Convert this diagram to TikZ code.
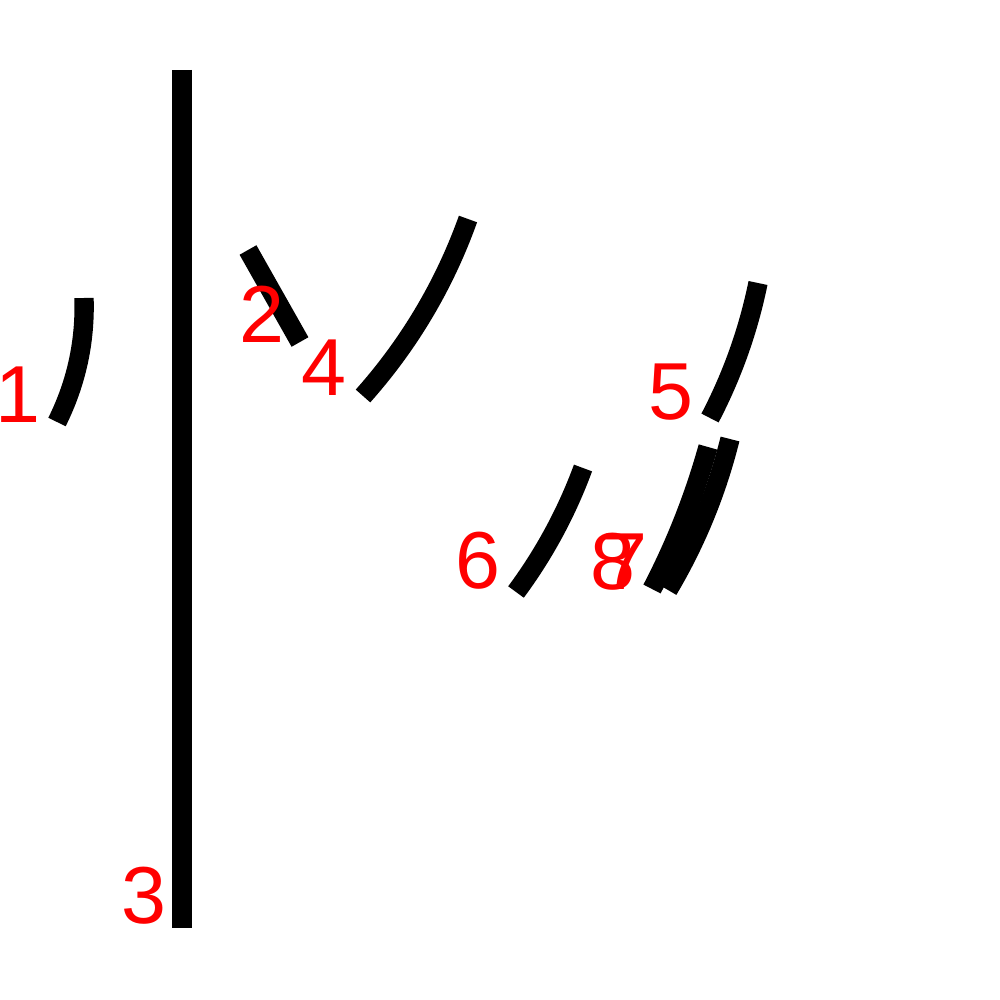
\documentclass[tikz,border=0pt]{standalone}
\usepackage{fontspec}
\setmainfont{Liberation Sans}
\begin{document}
\begin{tikzpicture}[scale=0.1, every node/.style={inner sep=0pt}]
        \tikzstyle{stroke}=[black,line width=5.5pt]
        \tikzstyle{num}=[red,font=\fontsize{23}{23}\selectfont]
        \useasboundingbox (0,0) rectangle (100,-100);
        \draw [stroke] (8.4,-29.8) .. controls (8.54,-34.16) and (7.64,-38.3) .. (5.7,-42.2);
        \draw [stroke] (24.8,-25.0) -- (30.0,-34.2);
        \draw [stroke] (18.2,-7.0) -- (18.2,-92.8);
        \draw [stroke] (46.8,-21.9) .. controls (44.44,-28.48) and (40.94,-34.38) .. (36.3,-39.6);
        \draw [stroke] (75.8,-28.3) .. controls (74.83,-33.03) and (73.23,-37.53) .. (71.0,-41.8);
        \draw [stroke] (58.3,-46.8) .. controls (56.66,-51.25) and (54.42,-55.39) .. (51.6,-59.2);
        \draw [stroke] (73.0,-43.9) .. controls (71.67,-49.23) and (69.61,-54.27) .. (66.8,-59.0);
        \draw [stroke] (70.8,-44.7) .. controls (69.42,-49.63) and (67.56,-54.37) .. (65.2,-58.9);
        \node [num] (l1) at (1.8,-39.5) {1};
        \node [num] (l2) at (26.2,-31.4) {2};
        \node [num] (l3) at (14.4,-89.6) {3};
        \node [num] (l4) at (32.4,-36.8) {4};
        \node [num] (l5) at (67.1,-39.2) {5};
        \node [num] (l6) at (47.8,-56.1) {6};
        \node [num] (l7) at (62.5,-56.2) {7};
        \node [num] (l8) at (61.3,-56.2) {8};
\end{tikzpicture}
\end{document}
